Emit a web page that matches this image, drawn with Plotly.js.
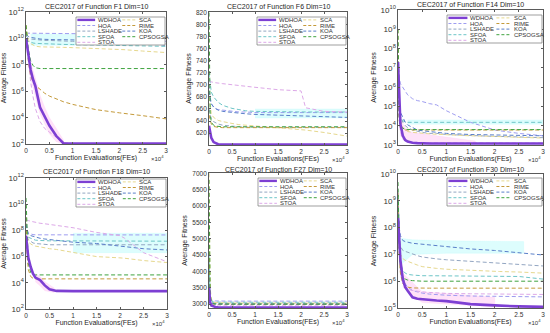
<!DOCTYPE html>
<html><head><meta charset="utf-8">
<script src="https://cdn.plot.ly/plotly-3.0.1.min.js"></script>
<style>html,body{margin:0;padding:0;background:#fff}#chart{width:550px;height:333px}</style>
</head><body><div id="chart"></div>
<script>
// ---------------- DATA ----------------
const algorithms = ['WDHOA','HOA','LSHADE','SFOA','STOA','SCA','RIME','KOA','CPSOGSA'];
const functionNames = ['F1','F6','F14','F18','F27','F30'];
const fes = [0, 250, 500, 1000, 1500, 2000, 3000, 4000, 5000, 6500, 8000, 10000, 15000, 20000, 21000, 25000, 30000];
const xTickVals = [0, 5000, 10000, 15000, 20000, 25000, 30000];
const xTickText = ['0','0.5','1','1.5','2','2.5','3'];

// rows follow `algorithms` order
const f1Fitness = [
  [1e10,2e9,4e8,4e7,8e6,2.5e6,6e4,1.3e4,2.5e3,4e2,1.15e2,1.1e2,1.1e2,1.1e2,1.1e2,1.1e2,1.1e2],
  [2.5e10,2.5e10,2.5e10,2.5e10,2.5e10,2.5e10,2.5e10,2.5e10,2.5e10,2.5e10,2.5e10,2.4e10,2.2e10,1.6e10,1.5e10,1e10,6e9],
  [1.5e10,1.2e10,1e10,9e9,8.5e9,8e9,7.5e9,7e9,7e9,6.5e9,6.5e9,6e9,5.5e9,5e9,5e9,4.5e9,4e9],
  [3e10,8e9,6e9,5e9,4.5e9,4.2e9,4e9,4e9,3.8e9,3.6e9,3.5e9,3.4e9,3.2e9,3e9,3e9,2.8e9,2.5e9],
  [1e10,1.5e9,2e8,5e6,4e5,5e4,5e3,1.5e3,8e2,3e2,1.3e2,1.05e2,1.05e2,1.05e2,1.05e2,1.05e2,1.05e2],
  [1e11,2e10,8e9,4e9,3e9,2.6e9,2.3e9,2.2e9,2.1e9,2.1e9,2.1e9,2e9,1.8e9,1.5e9,1.4e9,1.1e9,8.5e8],
  [1e11,3e9,2e8,1.5e7,5e6,2.8e6,1.3e6,7e5,4.3e5,2.6e5,1.6e5,1e5,4e4,2.3e4,2.1e4,1.4e4,8e3],
  [2e10,1.6e10,1.4e10,1.2e10,1.1e10,1e10,9e9,8.5e9,8e9,8e9,8e9,7.5e9,7e9,6.5e9,6.5e9,5e9,3e9],
  [1e11,1e10,1.5e9,2e8,9e7,6e7,5.2e7,5.2e7,5.2e7,5.2e7,5.2e7,5.2e7,5.2e7,5.2e7,5.2e7,5.2e7,5.2e7]
];
const f6Fitness = [
  [632,620,612,605,602.5,601.5,601,600.9,600.8,600.8,600.8,600.8,600.8,600.8,600.8,600.8,600.8],
  [700,675,668,663,660,659,658,657,656,655,655,654,654,654,654,654,654],
  [660,648,643,639,637,635,633,632,631,630.5,630,629.5,629.5,629.5,629.5,629.5,629.5],
  [720,698,688,680,675,671,666,663,661,659,657,656,655,655,655,655,655],
  [706,705,705,704,703,703,702,701,700,699,698,696,692,690,662,656,655],
  [680,660,652,646,643,641,639,637,636,634,633,632,629,626,625,621,615],
  [650,640,635,631,630,629.5,629,629,629,629,629,629,629,629,629,629,629],
  [690,676,669,663,660,658,656,655,654,653,652,651,649.5,648,648,647,646],
  [820,652,638,633,631.5,631,630.5,630.5,630.5,630.5,630.5,630.5,630.5,630.5,630.5,630.5,630.5]
];
const f14Fitness = [
  [2e7,1e5,1.2e4,3e3,1.8e3,1.5e3,1.3e3,1.25e3,1.2e3,1.2e3,1.2e3,1.2e3,1.2e3,1.2e3,1.2e3,1.2e3,1.2e3],
  [1e8,3e6,1.5e6,1e6,6e5,4e5,2.5e5,2e5,1.8e5,1.4e5,1.2e5,6e4,1.5e4,6e3,5.5e3,4e3,3e3],
  [1e7,1e5,3e4,1.5e4,1e4,8e3,6e3,5e3,4.5e3,4e3,4e3,3.5e3,3e3,2.8e3,2.8e3,2.6e3,2.4e3],
  [1e8,1e5,3e4,1.8e4,1.6e4,1.5e4,1.5e4,1.5e4,1.5e4,1.5e4,1.5e4,1.5e4,1.5e4,1.5e4,1.5e4,1.5e4,1.5e4],
  [1e6,2e4,5e3,2e3,1.6e3,1.4e3,1.3e3,1.3e3,1.25e3,1.25e3,1.25e3,1.25e3,1.25e3,1.25e3,1.25e3,1.25e3,1.25e3],
  [1e9,1e5,2e4,8e3,6e3,5e3,4.5e3,4.2e3,4e3,3.8e3,3.6e3,3.4e3,3e3,2.8e3,2.7e3,2.5e3,2.3e3],
  [1e8,2e4,8e3,6.5e3,6e3,6e3,6e3,6e3,6e3,6e3,6e3,6e3,6e3,6e3,6e3,6e3,6e3],
  [1e7,2e5,5e4,2.5e4,1.5e4,1.1e4,8e3,6e3,5.5e3,5e3,4.5e3,4e3,3.5e3,3.3e3,3.3e3,3.1e3,3e3],
  [1e9,3e4,1e4,7.5e3,6.5e3,6.3e3,6.3e3,6.3e3,6.3e3,6.3e3,6.3e3,6.3e3,6.3e3,6.3e3,6.3e3,6.3e3,6.3e3]
];
const f18Fitness = [
  [4e7,3e6,8e5,1.6e5,5e4,2.5e4,1.6e4,6.3e3,3.2e3,2.4e3,2.3e3,2.3e3,2.3e3,2.3e3,2.3e3,2.3e3,2.3e3],
  [1e9,1e8,6e7,5e7,4.8e7,4.6e7,4.6e7,4.6e7,4.6e7,4.6e7,4.6e7,4.6e7,4.6e7,4.5e7,4.5e7,4.5e7,4.5e7],
  [1e8,3e7,2e7,1.5e7,1.1e7,1e7,9e6,8.5e6,8e6,8e6,8e6,8e6,8e6,8e6,8e6,8e6,8e6],
  [3e8,5e7,3e7,2.5e7,2e7,1.8e7,1.7e7,1.6e7,1.6e7,1.6e7,1.6e7,1.6e7,1.6e7,1.6e7,1.6e7,1.5e7,1.5e7],
  [6.3e8,6.3e8,5.6e8,5e8,4.5e8,4e8,3.5e8,3.2e8,2.8e8,2.5e8,2e8,1.6e8,7e7,4e7,2.5e7,2e6,4e5],
  [1e9,3e7,1.5e7,9e6,7.5e6,6.3e6,5.5e6,4.5e6,4e6,3.5e6,2.8e6,2e6,1e6,8e5,7.5e5,5e5,3.5e5],
  [1e9,1e6,1e5,3e4,2.2e4,2e4,2e4,2e4,2e4,2e4,2e4,2e4,2e4,2e4,2e4,2e4,2e4],
  [3e8,8e7,5e7,4e7,3.5e7,3e7,2.5e7,2.2e7,2e7,1.7e7,1.5e7,1.26e7,1e7,6.3e6,6e6,4e6,3.2e6],
  [3e10,1e7,3e5,6e4,4.5e4,4e4,4e4,4e4,4e4,4e4,4e4,4e4,4e4,4e4,4e4,4e4,4e4]
];
const f27Fitness = [
  [3500,3050,2960,2920,2905,2900,2898,2897,2896,2896,2896,2895,2895,2895,2895,2895,2895],
  [4000,3200,3130,3100,3095,3092,3090,3090,3090,3090,3090,3090,3090,3090,3090,3090,3090],
  [3600,3100,3050,3030,3025,3022,3020,3020,3020,3020,3020,3020,3020,3020,3020,3020,3020],
  [4500,3150,3100,3065,3060,3058,3056,3055,3055,3055,3055,3055,3055,3055,3055,3055,3055],
  [3400,3050,2990,2975,2970,2968,2966,2965,2965,2965,2965,2965,2965,2965,2965,2965,2965],
  [7000,3500,3150,3060,3045,3040,3035,3032,3030,3030,3030,3028,3028,3028,3028,3028,3028],
  [5000,3150,3030,3000,2995,2992,2990,2990,2990,2990,2990,2990,2990,2990,2990,2990,2990],
  [3800,3100,3030,3005,3002,3000,3000,3000,3000,3000,3000,3000,3000,3000,3000,3000,3000],
  [6800,3300,3100,3010,3005,3002,3000,3000,3000,3000,3000,3000,3000,3000,3000,3000,3000]
];
const f30Fitness = [
  [2.3e8,4e7,6e6,1.2e6,6e5,4.4e5,2.5e5,2.2e5,2.1e5,2e5,1.9e5,1.8e5,1.4e5,1.25e5,1.22e5,1.15e5,1.1e5],
  [2e9,5e7,5e6,1.5e6,8e5,6e5,4.5e5,4e5,3.6e5,3.3e5,3.1e5,3e5,2.8e5,2.7e5,2.7e5,2.6e5,2.6e5],
  [5e8,5e7,2e7,1.4e7,1.3e7,1.2e7,1e7,9e6,8e6,7.2e6,6.8e6,6.3e6,5.5e6,4.8e6,4.7e6,4.2e6,3.7e6],
  [1e9,2e7,5e6,2.5e6,2e6,1.8e6,1.7e6,1.6e6,1.6e6,1.6e6,1.6e6,1.6e6,1.6e6,1.6e6,1.6e6,1.5e6,1.2e6],
  [5e8,1e7,2e6,8e5,6e5,5e5,4.5e5,4.2e5,4e5,3.8e5,3.6e5,3.5e5,3.4e5,3.3e5,3.3e5,3.2e5,3.2e5],
  [1e9,2e7,1e7,7e6,6e6,5.5e6,4.5e6,4e6,3.5e6,3.2e6,3e6,2.8e6,2.5e6,2.3e6,2.3e6,2.2e6,2e6],
  [2e9,1e7,2e6,8e5,6.5e5,6e5,5.6e5,5.5e5,5.5e5,5.5e5,5.5e5,5.5e5,5.5e5,5.5e5,5.5e5,5.5e5,5.5e5],
  [1e9,1e8,5e7,3.3e7,3e7,2.8e7,2.6e7,2.5e7,2.4e7,2.2e7,2.1e7,2e7,1.6e7,1.4e7,1.35e7,1.2e7,9.5e6],
  [5e9,2e7,3e6,1.5e6,1.2e6,1.1e6,1.05e6,1e6,1e6,1e6,1e6,1e6,1e6,1e6,1e6,1e6,1e6]
];
const allFitness = [f1Fitness, f6Fitness, f14Fitness, f18Fitness, f27Fitness, f30Fitness];

// spread (std) bands: x, lower, upper
const bandCyanX  = [[1000,5000,10000,15000],[10000,20000,30000],[2000,10000,20000,30000],[10000,20000,30000],[],[500,3000,10000,20000,26000]];
const bandCyanLo = [[3e9,3e9,3e9,3.5e9],[645,645,645],[1.2e4,1.2e4,1.2e4,1.2e4],[2e6,2e6,2e6],[],[4e6,1e7,1.1e7,1.1e7,1.1e7]];
const bandCyanHi = [[2.2e10,2.2e10,2.2e10,2e10],[660,660,660],[2e4,2e4,2e4,2e4],[6e7,6e7,6e7],[],[4e7,3.5e7,3.2e7,3e7,3e7]];
const bandPinkX  = [[500,1000,2000,3000,4000,5000,6500,8000],[],[500,2000,8000,16000],[2000,3000,4000,6000],[],[1000,5000,10000,20000]];
const bandPinkLo = [[1e8,1e7,4e5,2e4,3e3,6e2,1.5e2,1.05e2],[],[3e3,1.3e3,1.2e3,1.2e3],[1.2e4,6e3,2.5e3,1.8e3],[],[6e5,1.6e5,1.4e5,1.1e5]];
const bandPinkHi = [[1e9,1.5e8,1e7,5e5,6e4,1e4,1.5e3,2e2],[],[2e4,5e3,3e3,1.6e3],[5e4,3e4,1.2e4,4e3],[],[2e6,4e5,3.5e5,2.5e5]];

// ---------------- STYLE / LAYOUT ----------------
const W = 550, H = 333;
const colors = ['#7D3FD3','#9E9CF0','#93A6C2','#6DC5C7','#DDA8E8','#E6D88E','#C49A3A','#5A7FC9','#3FA33F'];
const FONT = 'Arial, "Liberation Sans", sans-serif';
const panels = [
  {box:[26,12,166,144],  type:'log', range:[2,12], dtick:2, legend:[76,17,165,45],   titleY:6},
  {box:[209,12,347,145], type:'linear', range:[600.2,821], dtick:20, tick0:600, legend:[257,17,346,45], titleY:6},
  {box:[398,10,543,145], type:'log', range:[3,10], dtick:1, legend:[447,15,542,43],   titleY:5},
  {box:[26,178,167,309], type:'log', range:[2,12], dtick:2, legend:[76,179,166,207],  titleY:171},
  {box:[209,173,347,308],type:'linear', range:[2880,7010], dtick:500, tick0:0, legend:[258,178,346,206], titleY:169},
  {box:[398,174,543,308],type:'log', range:[5,10], dtick:1, legend:[447,178,542,206], titleY:169}
];
const px = x => x / W;
const py = y => 1 - y / H;

const traces = [];
const layout = {
  width: W, height: H, margin:{l:0,r:0,t:0,b:0},
  paper_bgcolor:'#fff', plot_bgcolor:'rgba(0,0,0,0)', showlegend:false,
  font:{family:FONT, color:'#262626'},
  shapes:[], annotations:[]
};

panels.forEach((p, k) => {
  const sfx = k === 0 ? '' : String(k+1);
  const xa = 'x'+sfx, ya = 'y'+sfx;
  const [L,T,R,B] = p.box;
  const mkAx = () => ({showline:true, linecolor:'#5a5a5a', linewidth:0.8, mirror:'ticks',
    ticks:'inside', ticklen:2, tickwidth:0.6, tickcolor:'#5a5a5a', showgrid:false, zeroline:false,
    tickfont:{size:6.5, color:'#333', family:FONT}});
  layout['xaxis'+sfx] = Object.assign(mkAx(), {
    domain:[px(L), px(R)], anchor:ya, range:[0,30000], tickmode:'array', tickvals:xTickVals, ticktext:xTickText,
    title:{text:'Function Evaluations(FEs)', font:{size:7, color:'#262626'}, standoff:2}
  });
  const yax = Object.assign(mkAx(), {
    domain:[py(B), py(T)], anchor:xa, type:p.type, range:p.range, dtick:p.dtick,
    title:{text:'Average Fitness', font:{size:7, color:'#262626'}, standoff:3}
  });
  if (p.type === 'linear') { yax.tick0 = p.tick0; }
  else { yax.exponentformat='power'; yax.showexponent='all'; }
  layout['yaxis'+sfx] = yax;

  // bands
  const addBand = (bx, lo, hi, color) => {
    if (!bx.length) return;
    traces.push({x: bx.concat(bx.slice().reverse()), y: hi.concat(lo.slice().reverse()),
      xaxis:xa, yaxis:ya, mode:'lines', fill:'toself', fillcolor:color, line:{width:0.5, color:color}});
  };
  addBand(bandCyanX[k], bandCyanLo[k], bandCyanHi[k], 'rgba(170,250,250,0.4)');
  addBand(bandPinkX[k], bandPinkLo[k], bandPinkHi[k], 'rgba(255,190,240,0.45)');

  // curves (WDHOA drawn last so it stays on top)
  const order = [1,2,3,4,5,6,7,8,0];
  order.forEach(i => {
    traces.push({x:fes, y:allFitness[k][i], xaxis:xa, yaxis:ya, mode:'lines', name:algorithms[i],
      line: i === 0 ? {color:colors[i], width:2.6} : {color:colors[i], width:1, dash:'4px,2.5px'}});
  });

  // subplot title
  layout.annotations.push({text:'CEC2017 of Function '+functionNames[k]+' Dim=10', xref:'paper', yref:'paper',
    x:px((L+R)/2), y:py(p.titleY), xanchor:'center', yanchor:'middle', showarrow:false,
    font:{size:7, color:'#262626'}});
  // x10^4 exponent label
  layout.annotations.push({text:'×10<sup>4</sup>', xref:'paper', yref:'paper', x:px(R), y:py(B+14),
    xanchor:'right', yanchor:'middle', showarrow:false, font:{size:6, color:'#333'}});

  // legend box
  const [lL,lT,lR,lB] = p.legend; const lw = lR - lL;
  layout.shapes.push({type:'rect', xref:'paper', yref:'paper', x0:px(lL), x1:px(lR), y0:py(lB), y1:py(lT),
    line:{color:'#777', width:0.7}, fillcolor:'#fff', layer:'above'});
  algorithms.forEach((name, i) => {
    const col = i < 5 ? 0 : 1, row = i < 5 ? i : i - 5;
    const yy = lT + 2.9 + 5.6*row;
    const x0 = lL + lw*(col ? 0.52 : 0.015), x1 = lL + lw*(col ? 0.67 : 0.215), xt = lL + lw*(col ? 0.68 : 0.225);
    layout.shapes.push({type:'line', xref:'paper', yref:'paper', x0:px(x0), x1:px(x1), y0:py(yy), y1:py(yy),
      layer:'above', line: i === 0 ? {color:colors[i], width:2.4} : {color:colors[i], width:1, dash:'3px,2px'}});
    layout.annotations.push({text:name, xref:'paper', yref:'paper', x:px(xt), y:py(yy), xanchor:'left', yanchor:'middle',
      showarrow:false, font:{size:6, color:'#333'}});
  });
});

Plotly.newPlot('chart', traces, layout, {displayModeBar:false});
</script>
</body></html>
